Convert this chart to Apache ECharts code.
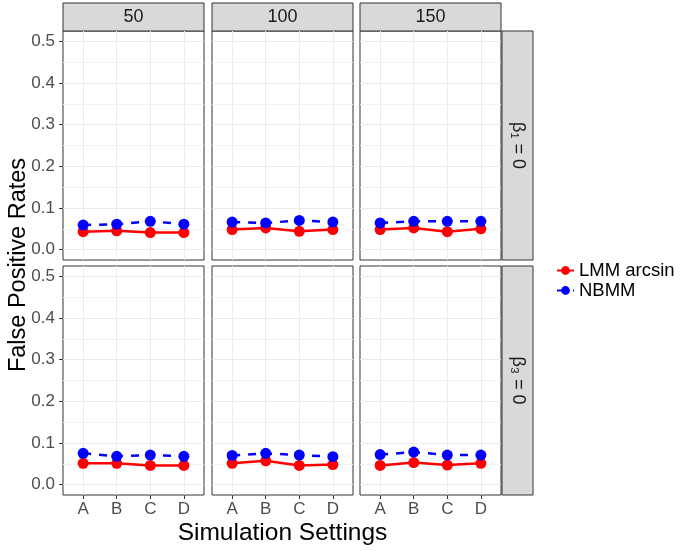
<!DOCTYPE html>
<html>
<head>
<meta charset="utf-8">
<script src="https://cdn.jsdelivr.net/npm/echarts@6/dist/echarts.min.js"></script>
<style>
  html, body { margin: 0; padding: 0; background: #fff; }
  #main { width: 681px; height: 551px; }
</style>
</head>
<body>
<div id="main"></div>
<script>
var settings = ['A', 'B', 'C', 'D'];
var sampleSizes = ['50', '100', '150'];
var effects = ['\u03b2\u2081 = 0', '\u03b2\u2083 = 0'];
var yTicks = [0, 0.1, 0.2, 0.3, 0.4, 0.5];
var yMinor = [0.05, 0.15, 0.25, 0.35, 0.45];

// false positive rates, one row per sample size (50, 100, 150)
var lmmBeta1 = [
    [0.043, 0.045, 0.041, 0.041],
    [0.048, 0.052, 0.044, 0.048],
    [0.048, 0.052, 0.043, 0.050]
];
var nbmmBeta1 = [
    [0.059, 0.061, 0.068, 0.061],
    [0.066, 0.064, 0.070, 0.066],
    [0.064, 0.068, 0.068, 0.068]
];
var lmmBeta3 = [
    [0.051, 0.051, 0.046, 0.046],
    [0.051, 0.057, 0.046, 0.048],
    [0.046, 0.053, 0.047, 0.051]
];
var nbmmBeta3 = [
    [0.075, 0.068, 0.071, 0.068],
    [0.070, 0.075, 0.071, 0.067],
    [0.072, 0.078, 0.071, 0.071]
];

var chart = echarts.init(document.getElementById('main'));

var FONT = 'Liberation Sans, Arial, sans-serif';
var colLeft = [63, 212, 360];
var rowTop = [31, 266];
var panelW = 141, panelH = 229;
var xPos = [1, 2, 3, 4];   // discrete positions of A..D

var lmmRows = [lmmBeta1, lmmBeta3];
var nbmmRows = [nbmmBeta1, nbmmBeta3];

function toPoints(vals) {
    return vals.map(function (v, i) { return [xPos[i], v]; });
}

var grids = [], xAxes = [], yAxes = [], series = [], graphics = [];

for (var r = 0; r < 2; r++) {
    for (var c = 0; c < 3; c++) {
        var g = grids.length;
        grids.push({
            left: colLeft[c], top: rowTop[r], width: panelW, height: panelH,
            show: true, backgroundColor: '#fff',
            borderColor: '#333333', borderWidth: 1
        });
        var xi = xAxes.length;
        xAxes.push({
            gridIndex: g, type: 'value', min: 0.4, max: 4.6, position: 'bottom',
            axisLine: { show: false, onZero: false },
            axisTick: {
                show: r === 1, length: 4, customValues: xPos,
                lineStyle: { color: '#333333', width: 1 }
            },
            axisLabel: {
                show: r === 1, customValues: xPos, margin: 6,
                fontSize: 17, color: '#4d4d4d', fontFamily: FONT,
                formatter: function (v) { return settings[Math.round(v) - 1]; }
            },
            splitLine: { show: true, lineStyle: { color: '#ebebeb', width: 1 } }
        });
        if (r === 1) {
            // tick marks below the panel
            xAxes.push({
                gridIndex: g, type: 'value', min: 0.4, max: 4.6, position: 'bottom', offset: 4,
                axisLine: { show: false, onZero: false },
                axisTick: {
                    show: true, inside: true, length: 4, customValues: xPos,
                    lineStyle: { color: '#333333', width: 1 }
                },
                axisLabel: { show: false },
                splitLine: { show: false }
            });
        }
        // major axis
        var yi = yAxes.length;
        yAxes.push({
            gridIndex: g, type: 'value', min: -0.025, max: 0.525, position: 'left',
            axisLine: { show: false },
            axisTick: {
                show: c === 0, length: 4, customValues: yTicks,
                lineStyle: { color: '#333333', width: 1 }
            },
            axisLabel: {
                show: c === 0, customValues: yTicks, margin: 8,
                fontSize: 17, color: '#4d4d4d', fontFamily: FONT,
                formatter: function (v) { return v.toFixed(1); }
            },
            splitLine: { show: true, lineStyle: { color: '#ebebeb', width: 1.2 } }
        });
        // minor grid lines
        yAxes.push({
            gridIndex: g, type: 'value', min: -0.025, max: 0.525, position: 'right',
            axisLine: { show: false },
            axisTick: { show: false, customValues: yMinor },
            axisLabel: { show: false },
            splitLine: { show: true, lineStyle: { color: '#f2f2f2', width: 1 } }
        });
        if (c === 0) {
            // tick marks left of the panel
            yAxes.push({
                gridIndex: g, type: 'value', min: -0.025, max: 0.525, position: 'left', offset: 4,
                axisLine: { show: false, onZero: false },
                axisTick: {
                    show: true, inside: true, length: 4, customValues: yTicks,
                    lineStyle: { color: '#333333', width: 1 }
                },
                axisLabel: { show: false },
                splitLine: { show: false }
            });
        }
        series.push({
            name: 'LMM arcsin', type: 'line', xAxisIndex: xi, yAxisIndex: yi,
            data: toPoints(lmmRows[r][c]),
            symbol: 'circle', symbolSize: 11, showSymbol: true,
            lineStyle: { color: '#ff0000', width: 2.5 },
            itemStyle: { color: '#ff0000' },
            emphasis: { disabled: true }, animation: false, z: 3
        });
        series.push({
            name: 'NBMM', type: 'line', xAxisIndex: xi, yAxisIndex: yi,
            data: toPoints(nbmmRows[r][c]),
            symbol: 'circle', symbolSize: 11, showSymbol: true,
            lineStyle: { color: '#0000ff', width: 2.5, type: [8, 8] },
            itemStyle: { color: '#0000ff' },
            emphasis: { disabled: true }, animation: false, z: 4
        });
    }
}

// facet strips on top
sampleSizes.forEach(function (s, c) {
    graphics.push({
        type: 'rect', shape: { x: colLeft[c], y: 3, width: panelW, height: 28 },
        style: { fill: '#d9d9d9', stroke: '#333333', lineWidth: 1 }
    });
    graphics.push({
        type: 'text', x: colLeft[c] + panelW / 2, y: 17.5,
        style: {
            text: s, fontSize: 18, fill: '#1a1a1a', fontFamily: FONT,
            textAlign: 'center', textVerticalAlign: 'middle'
        }
    });
});

// facet strips on the right
effects.forEach(function (e, r) {
    graphics.push({
        type: 'rect', shape: { x: 502, y: rowTop[r], width: 31, height: panelH },
        style: { fill: '#d9d9d9', stroke: '#333333', lineWidth: 1 }
    });
    graphics.push({
        type: 'text', x: 517.5, y: rowTop[r] + panelH / 2, rotation: -Math.PI / 2,
        style: {
            text: e, fontSize: 18, fill: '#1a1a1a', fontFamily: FONT,
            textAlign: 'center', textVerticalAlign: 'middle'
        }
    });
});

graphics.push({
    type: 'text', x: 282.5, y: 533,
    style: {
        text: 'Simulation Settings', fontSize: 24.5, fill: '#000', fontFamily: FONT,
        textAlign: 'center', textVerticalAlign: 'middle'
    }
});
graphics.push({
    type: 'text', x: 19, y: 265, rotation: Math.PI / 2,
    style: {
        text: 'False Positive Rates', fontSize: 23.5, fill: '#000', fontFamily: FONT,
        textAlign: 'center', textVerticalAlign: 'middle'
    }
});

chart.setOption({
    backgroundColor: '#fff',
    animation: false,
    grid: grids,
    xAxis: xAxes,
    yAxis: yAxes,
    series: series,
    legend: {
        data: ['LMM arcsin', 'NBMM'],
        orient: 'vertical', left: 551, top: 256,
        itemWidth: 17, itemHeight: 11, itemGap: 1,
        textStyle: { fontSize: 18.5, color: '#000', fontFamily: FONT }
    },
    graphic: graphics
});
</script>
</body>
</html>
